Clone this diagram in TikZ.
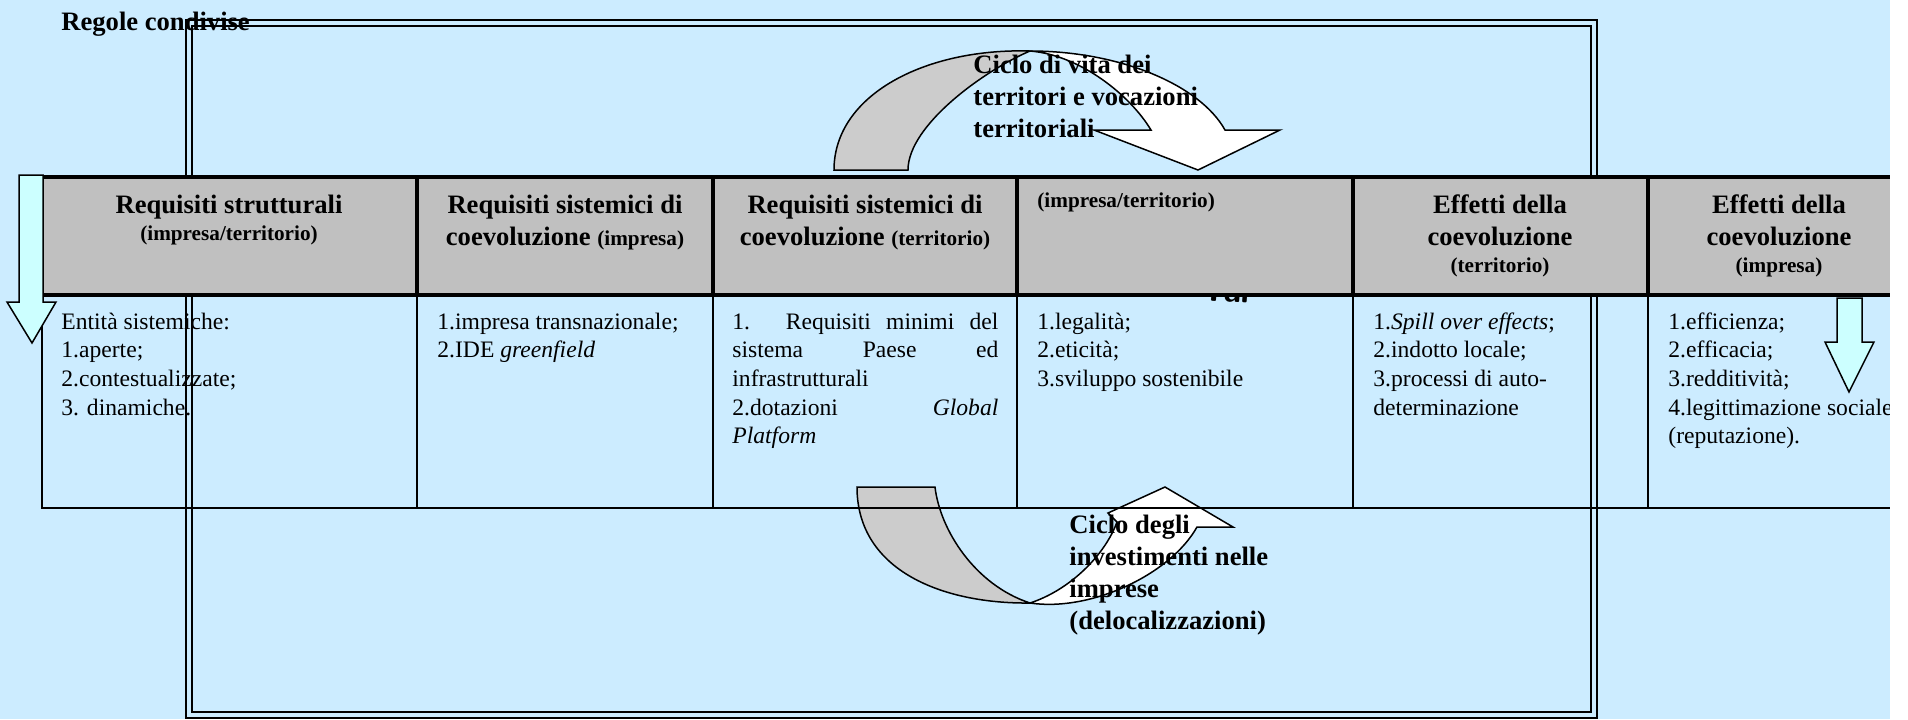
\documentclass[tikz,border=0pt]{standalone}
\usepackage{fontspec}
\setmainfont{Liberation Serif}
\usetikzlibrary{positioning}

\definecolor{sfondo}{HTML}{CCECFF}
\definecolor{grigio}{HTML}{C0C0C0}
\definecolor{grigiofreccia}{HTML}{CCCCCC}
\definecolor{ciano}{HTML}{CCFFFF}

\tikzstyle{testo} = [anchor=base west, inner sep=0pt, font=\fontsize{11.8}{14.35}\selectfont]
\tikzstyle{titolo} = [anchor=base, inner sep=0pt, font=\fontsize{13.3}{16}\selectfont\bfseries]
\tikzstyle{ciclo} = [anchor=base west, inner sep=0pt, font=\fontsize{13.3}{16}\selectfont\bfseries]
\tikzstyle{freccia} = [draw, line width=0.75pt, line join=miter]
\tikzstyle{spessa} = [draw, line width=2pt]
\tikzstyle{sottile} = [draw, line width=1pt]

\newcommand{\piccolo}[1]{{\fontsize{10.6}{12}\selectfont #1}}
\newcommand{\righe}[1]{\begin{tabular}[t]{@{}l@{}}#1\end{tabular}}
\newcommand{\centrate}[1]{\begin{tabular}[t]{@{}c@{}}#1\end{tabular}}

\begin{document}
\begin{tikzpicture}[x=0.5pt, y=-0.5pt]

    \useasboundingbox (0,0) rectangle (1908,719);
    \fill[white] (0,0) rectangle (1908,719);
    \fill[sfondo] (0,0) rectangle (1890,719);

    \node[ciclo] (regole) at (61,30) {Regole condivise};

    \draw[sottile] (186,20) rectangle (1597,718);
    \draw[sottile] (192,26) rectangle (1591,712);

    \node[anchor=base west, inner sep=0pt, rotate=-4, font=\sffamily\bfseries\fontsize{17}{20}\selectfont] (frammento) at (1201,300) {Tal};

    % ciclo dei territori
    \filldraw[freccia, fill=grigiofreccia] (834,170) .. controls (834,95) and (925,48) .. (1030,51)
        .. controls (985,70) and (908,125) .. (908,170) -- cycle;
    \filldraw[freccia, fill=white] (1030,51) .. controls (1120,51) and (1200,85) .. (1225,130)
        -- (1280,130) -- (1198,170) -- (1094,130) -- (1151,130)
        .. controls (1130,95) and (1080,55) .. (1030,51) -- cycle;

    % ciclo degli investimenti
    \filldraw[freccia, fill=grigiofreccia] (857,487) .. controls (857,572) and (945,604) .. (1030,603)
        .. controls (975,585) and (940,530) .. (935,487) -- cycle;
    \filldraw[freccia, fill=white] (1030,603) .. controls (1090,612) and (1170,575) .. (1197,527)
        -- (1233,527) -- (1165,487) -- (1108,513) -- (1117,522)
        .. controls (1105,555) and (1070,590) .. (1030,603) -- cycle;

    % tabella
    \fill[grigio] (42,177) rectangle (1890,295);
    \foreach \x in {417,713,1017,1353,1648} {
        \draw[spessa] (\x,177) -- (\x,295);
        \draw[sottile] (\x,295) -- (\x,508);
    }
    \draw[sottile] (42,295) -- (42,508) -- (1890,508);
    \draw[spessa] (1890,177) -- (42,177) -- (42,295) -- (1890,295);

    \node[titolo] (req) at (229,213) {\centrate{Requisiti strutturali\\[-2.5pt] \piccolo{(impresa/territorio)}}};
    \node[titolo] (reqimp) at (565,213) {\centrate{Requisiti sistemici di\\ coevoluzione \piccolo{(impresa)}}};
    \node[titolo] (reqterr) at (865,213) {\centrate{Requisiti sistemici di\\ coevoluzione \piccolo{(territorio)}}};
    \node[titolo, anchor=base west] (valori) at (1037,207) {\piccolo{(impresa/territorio)}};
    \node[titolo] (effterr) at (1500,213) {\centrate{Effetti della\\ coevoluzione\\[-2.5pt] \piccolo{(territorio)}}};
    \node[titolo] (effimp) at (1779,213) {\centrate{Effetti della\\ coevoluzione\\[-2.5pt] \piccolo{(impresa)}}};

    \node[testo] (entita) at (61,329) {\righe{Entità sistemiche:\\ 1.aperte;\\ 2.contestualizzate;\\ 3. dinamiche.}};
    \node[testo] (impresa) at (437,329) {\righe{1.impresa transnazionale;\\ 2.IDE \textit{greenfield}}};
    \node[testo] (paese) at (732,329) {\righe{\makebox[133pt][s]{1. Requisiti minimi del}\\
        \makebox[133pt][s]{sistema Paese ed}\\ infrastrutturali\\
        \makebox[133pt][s]{2.dotazioni \textit{Global}}\\ \textit{Platform}}};
    \node[testo] (legalita) at (1037,329) {\righe{1.legalità;\\ 2.eticità;\\ 3.sviluppo sostenibile}};
    \node[testo] (spill) at (1373,329) {\righe{1.\textit{Spill over effects};\\ 2.indotto locale;\\ 3.processi di auto-\\ determinazione}};
    \node[testo] (efficienza) at (1668,329) {\righe{1.efficienza;\\ 2.efficacia;\\ 3.redditività;\\ 4.legittimazione sociale\\ (reputazione).}};

    \node[ciclo] (cicloterr) at (973,73) {\righe{Ciclo di vita dei\\ territori e vocazioni\\ territoriali}};
    \node[ciclo] (cicloimp) at (1069,533) {\righe{Ciclo degli\\ investimenti nelle\\ imprese\\ (delocalizzazioni)}};

    \filldraw[freccia, fill=ciano] (19,175) -- (43,175) -- (43,302) -- (56,302) -- (32,343) -- (7,302) -- (19,302) -- cycle;
    \filldraw[freccia, fill=ciano] (1837,298) -- (1862,298) -- (1862,342) -- (1874,342) -- (1849,392) -- (1825,342) -- (1837,342) -- cycle;

    \fill[white] (1890,0) rectangle (1908,719);

\end{tikzpicture}
\end{document}
